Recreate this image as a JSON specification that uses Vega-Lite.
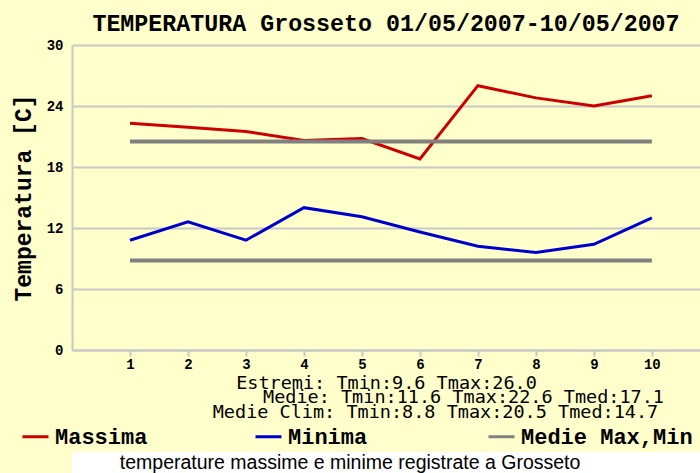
{
  "$schema": "https://vega.github.io/schema/vega-lite/v6.json",
  "background": "#ffffcc",
  "padding": {"left": 0, "top": 11, "right": 0, "bottom": 0},
  "spacing": 4,
  "title": {
    "text": "temperature massime e minime registrate a Grosseto",
    "orient": "bottom",
    "anchor": "middle",
    "frame": "bounds",
    "font": "Liberation Sans",
    "fontSize": 19.5,
    "fontWeight": "normal",
    "color": "#000000",
    "offset": -19
  },
  "resolve": {"scale": {"color": "independent"}, "legend": {"color": "independent"}},
  "config": {
    "view": {"stroke": null},
    "font": "Liberation Mono"
  },
  "datasets": {
    "serie": [
      {"giorno": 1, "serie": "Massima", "temp": 22.3},
      {"giorno": 2, "serie": "Massima", "temp": 21.9},
      {"giorno": 3, "serie": "Massima", "temp": 21.5},
      {"giorno": 4, "serie": "Massima", "temp": 20.6},
      {"giorno": 5, "serie": "Massima", "temp": 20.8},
      {"giorno": 6, "serie": "Massima", "temp": 18.8},
      {"giorno": 7, "serie": "Massima", "temp": 26.0},
      {"giorno": 8, "serie": "Massima", "temp": 24.8},
      {"giorno": 9, "serie": "Massima", "temp": 24.0},
      {"giorno": 10, "serie": "Massima", "temp": 25.0},
      {"giorno": 1, "serie": "Minima", "temp": 10.8},
      {"giorno": 2, "serie": "Minima", "temp": 12.6},
      {"giorno": 3, "serie": "Minima", "temp": 10.8},
      {"giorno": 4, "serie": "Minima", "temp": 14.0},
      {"giorno": 5, "serie": "Minima", "temp": 13.1},
      {"giorno": 6, "serie": "Minima", "temp": 11.6},
      {"giorno": 7, "serie": "Minima", "temp": 10.2},
      {"giorno": 8, "serie": "Minima", "temp": 9.6},
      {"giorno": 9, "serie": "Minima", "temp": 10.4},
      {"giorno": 10, "serie": "Minima", "temp": 13.0}
    ],
    "medie": [
      {"giorno": 1, "serie": "Medie Max,Min", "linea": "Tmax clim", "temp": 20.5},
      {"giorno": 10, "serie": "Medie Max,Min", "linea": "Tmax clim", "temp": 20.5},
      {"giorno": 1, "serie": "Medie Max,Min", "linea": "Tmin clim", "temp": 8.8},
      {"giorno": 10, "serie": "Medie Max,Min", "linea": "Tmin clim", "temp": 8.8}
    ]
  },
  "vconcat": [
    {
      "width": 628,
      "height": 305,
      "title": {
        "text": "TEMPERATURA Grosseto 01/05/2007-10/05/2007",
        "font": "Liberation Mono",
        "fontSize": 23.3,
        "fontWeight": "bold",
        "color": "#000000",
        "anchor": "middle",
        "frame": "group",
        "offset": 2
      },
      "encoding": {
        "x": {
          "field": "giorno",
          "type": "quantitative",
          "scale": {"domain": [0, 10.83], "nice": false, "zero": false},
          "axis": {
            "values": [1, 2, 3, 4, 5, 6, 7, 8, 9, 10],
            "format": "d",
            "grid": false,
            "domainColor": "#c8c8c8",
            "domainWidth": 2,
            "tickColor": "#c8c8c8",
            "tickWidth": 2,
            "tickSize": 6,
            "labelFont": "Liberation Mono",
            "labelFontSize": 14,
            "labelFontWeight": "bold",
            "labelColor": "#000000",
            "labelPadding": 1,
            "title": [
              "\u2800\u2800\u2800\u2800\u2800\u2800\u2800\u2800\u2800\u2800Estremi: Tmin:9.6 Tmax:26.0\u2800\u2800\u2800\u2800\u2800\u2800\u2800\u2800\u2800\u2800",
              "\u2800\u2800\u2800\u2800\u2800\u2800\u2800\u2800\u2800\u2800\u2800Medie: Tmin:11.6 Tmax:22.6 Tmed:17.1",
              "\u2800\u2800\u2800\u2800\u2800\u2800\u2800Medie Clim: Tmin:8.8 Tmax:20.5 Tmed:14.7"
            ],
            "titleFont": "DejaVu Sans Mono",
            "titleFontSize": 18.5,
            "titleFontWeight": "normal",
            "titleColor": "#000000",
            "titleLineHeight": 14.5,
            "titlePadding": 2
          }
        },
        "y": {
          "field": "temp",
          "type": "quantitative",
          "scale": {"domain": [0, 30], "nice": false},
          "axis": {
            "values": [0, 6, 12, 18, 24, 30],
            "grid": true,
            "gridColor": "#c8c8c8",
            "gridWidth": 2,
            "domainColor": "#c8c8c8",
            "domainWidth": 2,
            "ticks": false,
            "labelFont": "Liberation Mono",
            "labelFontSize": 14,
            "labelFontWeight": "bold",
            "labelColor": "#000000",
            "labelPadding": 9,
            "title": ["", "Temperatura [C]"],
            "titleFont": "Liberation Mono",
            "titleFontSize": 23,
            "titleFontWeight": "bold",
            "titleColor": "#000000",
            "titleLineHeight": 12,
            "titlePadding": 11
          }
        },
        "color": {
          "field": "serie",
          "type": "nominal",
          "scale": {
            "domain": ["Massima", "Minima", "Medie Max,Min"],
            "range": ["#cc0000", "#0000cc", "#808080"]
          },
          "legend": {
            "orient": "none",
            "legendX": -51,
            "legendY": 377,
            "padding": 0,
            "direction": "horizontal",
            "title": null,
            "symbolType": "stroke",
            "symbolStrokeWidth": 3,
            "symbolSize": 676,
            "labelFont": "Liberation Mono",
            "labelFontSize": 22,
            "labelFontWeight": "bold",
            "labelColor": "#000000",
            "labelLimit": 400,
            "labelOffset": 5,
            "gridAlign": "all",
            "columnPadding": 22
          }
        }
      },
      "layer": [
        {
          "data": {"name": "serie"},
          "mark": {"type": "line", "strokeWidth": 3, "clip": true}
        },
        {
          "data": {"name": "medie"},
          "mark": {"type": "line", "strokeWidth": 4, "clip": true},
          "encoding": {"detail": {"field": "linea"}}
        }
      ]
    },
    {
      "width": 628,
      "height": 21,
      "view": {"fill": "#ffffff", "stroke": null},
      "data": {"values": []},
      "mark": {"type": "text"},
      "encoding": {"text": {"field": "didascalia", "type": "nominal"}}
    }
  ]
}
